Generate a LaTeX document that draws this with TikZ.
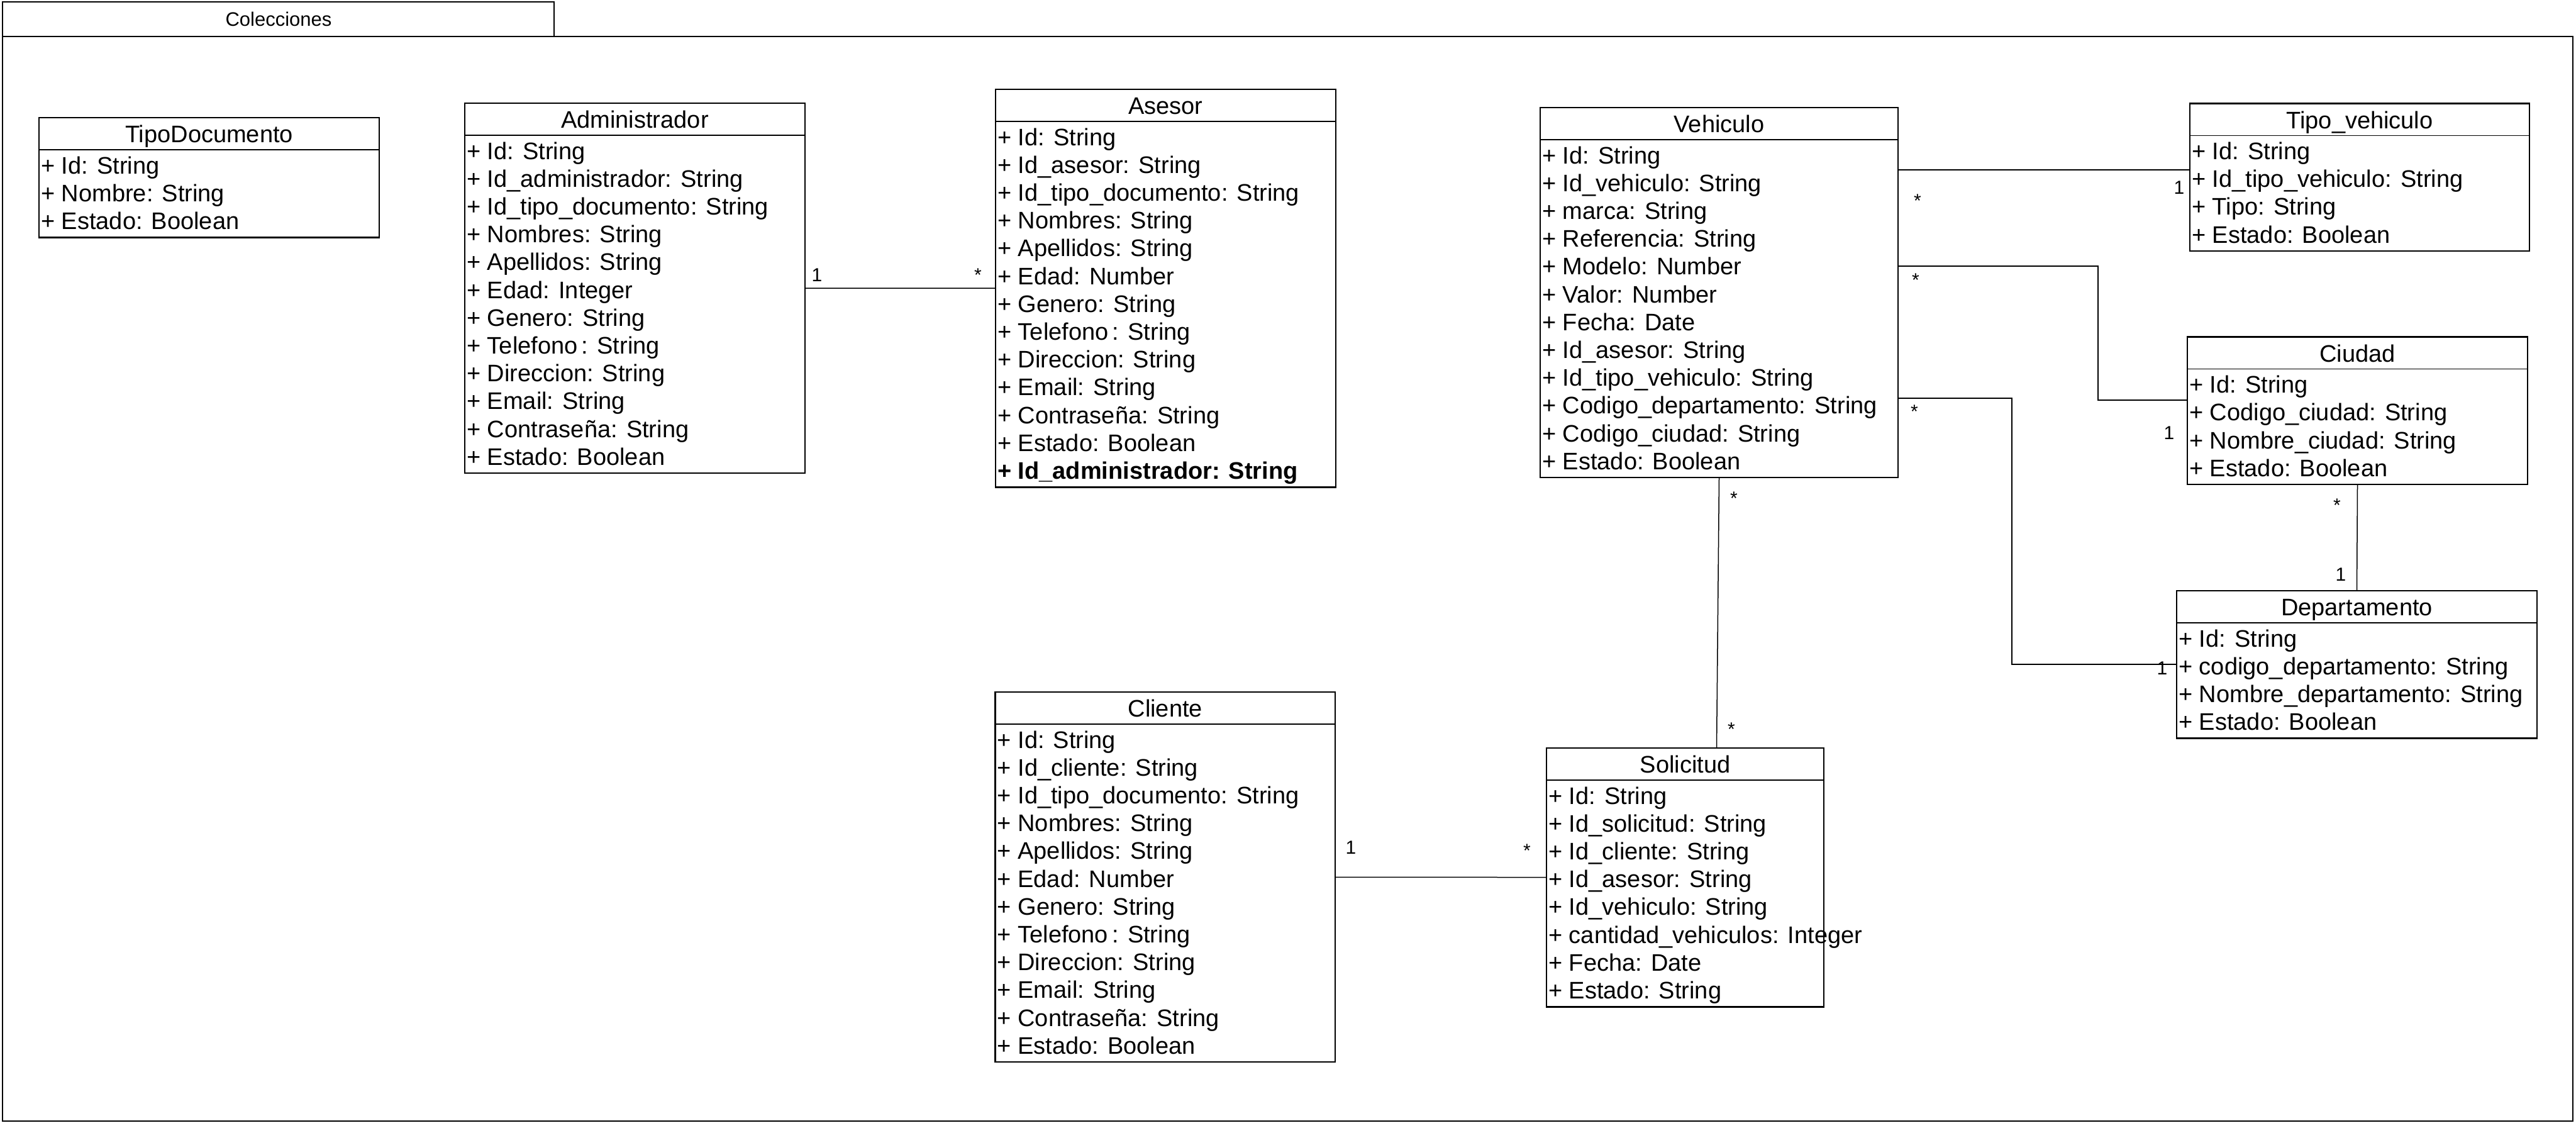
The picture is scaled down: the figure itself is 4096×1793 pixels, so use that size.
\documentclass[tikz,border=0pt]{standalone}
\usepackage{fontspec}
\setmainfont{Liberation Sans}
\newcommand{\attrpitch}{44.2}
\newcommand{\umlclass}[7]{%
\node[classbox, minimum width=#4pt, minimum height={(102+(#5-1)*\attrpitch)*1pt}] (#1) at (#2,#3) {};
\draw[divline] ([yshift=-51pt]#1.north west) -- ([yshift=-51pt]#1.north east);
\node[classtitle] (#1-title) at ([yshift=-39.5pt]#1.north) {#6};
\foreach \row [count=\i from 0] in {#7}
\node[attr] (#1-\i) at ([xshift=3pt,yshift={-(89+\i*\attrpitch)*1pt}]#1.north west) {\row};
}
\begin{document}
\begin{tikzpicture}[x=1pt,y=-1pt,
classbox/.style={draw, line width=2.5pt, anchor=north west, inner sep=0pt, outer sep=0pt},
divline/.style={line width=1.4pt},
classtitle/.style={anchor=base, inner sep=0pt, font=\fontsize{38}{44}\selectfont},
attr/.style={anchor=base west, inner sep=0pt, font=\fontsize{38}{44}\selectfont},
conn/.style={line width=1.5pt},
mult/.style={anchor=base, inner sep=0pt, font=\fontsize{30}{36}\selectfont},
frame/.style={line width=2.4pt}]
\fill[white] (0,0) rectangle (4096,1793);
\useasboundingbox (0,0) rectangle (4096,1793);
\draw[frame] (4,58) rectangle (4091,1782);
\draw[frame] (4,58) -- (4,3) -- (881,3) -- (881,58);
\node[anchor=base, inner sep=0pt, font=\fontsize{31}{36}\selectfont] (coltitle) at (443,42) {Colecciones};

\umlclass{tipodoc}{62}{187}{541}{3}{TipoDocumento}{+ Id: String, + Nombre: String, + Estado: Boolean}
\umlclass{admin}{739}{164}{541}{12}{Administrador}{+ Id: String, + Id\_administrador: String, + Id\_tipo\_documento: String, + Nombres: String, + Apellidos: String, + Edad: Integer, + Genero: String, + Telefono\,: String, + Direccion: String, + Email: String, + Contraseña: String, + Estado: Boolean}
\umlclass{asesor}{1583}{142}{541}{13}{Asesor}{+ Id: String, + Id\_asesor: String, + Id\_tipo\_documento: String, + Nombres: String, + Apellidos: String, + Edad: Number, + Genero: String, + Telefono\,: String, + Direccion: String, + Email: String, + Contraseña: String, + Estado: Boolean, \textbf{+ Id\_administrador: String}}
\umlclass{vehiculo}{2449}{171}{569}{12}{Vehiculo}{+ Id: String, + Id\_vehiculo: String, + marca: String, + Referencia: String, + Modelo: Number, + Valor: Number, + Fecha: Date, + Id\_asesor: String, + Id\_tipo\_vehiculo: String, + Codigo\_departamento: String, + Codigo\_ciudad: String, + Estado: Boolean}
\umlclass{tipoveh}{3482}{164.5}{540}{4}{Tipo\_vehiculo}{+ Id: String, + Id\_tipo\_vehiculo: String, + Tipo: String, + Estado: Boolean}
\umlclass{ciudad}{3478}{535.6}{541}{4}{Ciudad}{+ Id: String, + Codigo\_ciudad: String, + Nombre\_ciudad: String, + Estado: Boolean}
\umlclass{depto}{3461}{939}{573}{4}{Departamento}{+ Id: String, + codigo\_departamento: String, + Nombre\_departamento: String, + Estado: Boolean}
\umlclass{cliente}{1582.5}{1100}{540.5}{12}{Cliente}{+ Id: String, + Id\_cliente: String, + Id\_tipo\_documento: String, + Nombres: String, + Apellidos: String, + Edad: Number, + Genero: String, + Telefono\,: String, + Direccion: String, + Email: String, + Contraseña: String, + Estado: Boolean}
\umlclass{solicitud}{2459}{1189}{441}{8}{Solicitud}{+ Id: String, + Id\_solicitud: String, + Id\_cliente: String, + Id\_asesor: String, + Id\_vehiculo: String, + cantidad\_vehiculos: Integer, + Fecha: Date, + Estado: String}

\draw[conn] (admin) -- (asesor);
\draw[conn] (cliente) -- (solicitud);
\draw[conn] (vehiculo.south) -- ([xshift=-4pt]solicitud.north -| vehiculo.south);
\draw[conn] (ciudad.south) -- (depto.north);
\draw[conn] ([yshift=-99pt]vehiculo.north east) -- ([yshift=-105.5pt]tipoveh.north west);
\draw[conn] ([yshift=-252pt]vehiculo.north east) -- ++(318,0) |- ([yshift=-100.4pt]ciudad.north west);
\draw[conn] ([yshift=-462pt]vehiculo.north east) -- ++(181,0) |- ([yshift=-117pt]depto.north west);

\node[mult] (m1) at (1299,447) {1};
\node[mult] (m2) at (1555,447) {*};
\node[mult] (m3) at (3049,329) {*};
\node[mult] (m4) at (3465,308) {1};
\node[mult] (m5) at (3046,455) {*};
\node[mult] (m6) at (3449,698) {1};
\node[mult] (m7) at (3044,664) {*};
\node[mult] (m8) at (3438,1072) {1};
\node[mult] (m9) at (2757,802) {*};
\node[mult] (m10) at (2753,1169) {*};
\node[mult] (m11) at (3716,813) {*};
\node[mult] (m12) at (3722,923) {1};
\node[mult] (m13) at (2148,1357) {1};
\node[mult] (m14) at (2428,1362) {*};
\end{tikzpicture}
\end{document}
